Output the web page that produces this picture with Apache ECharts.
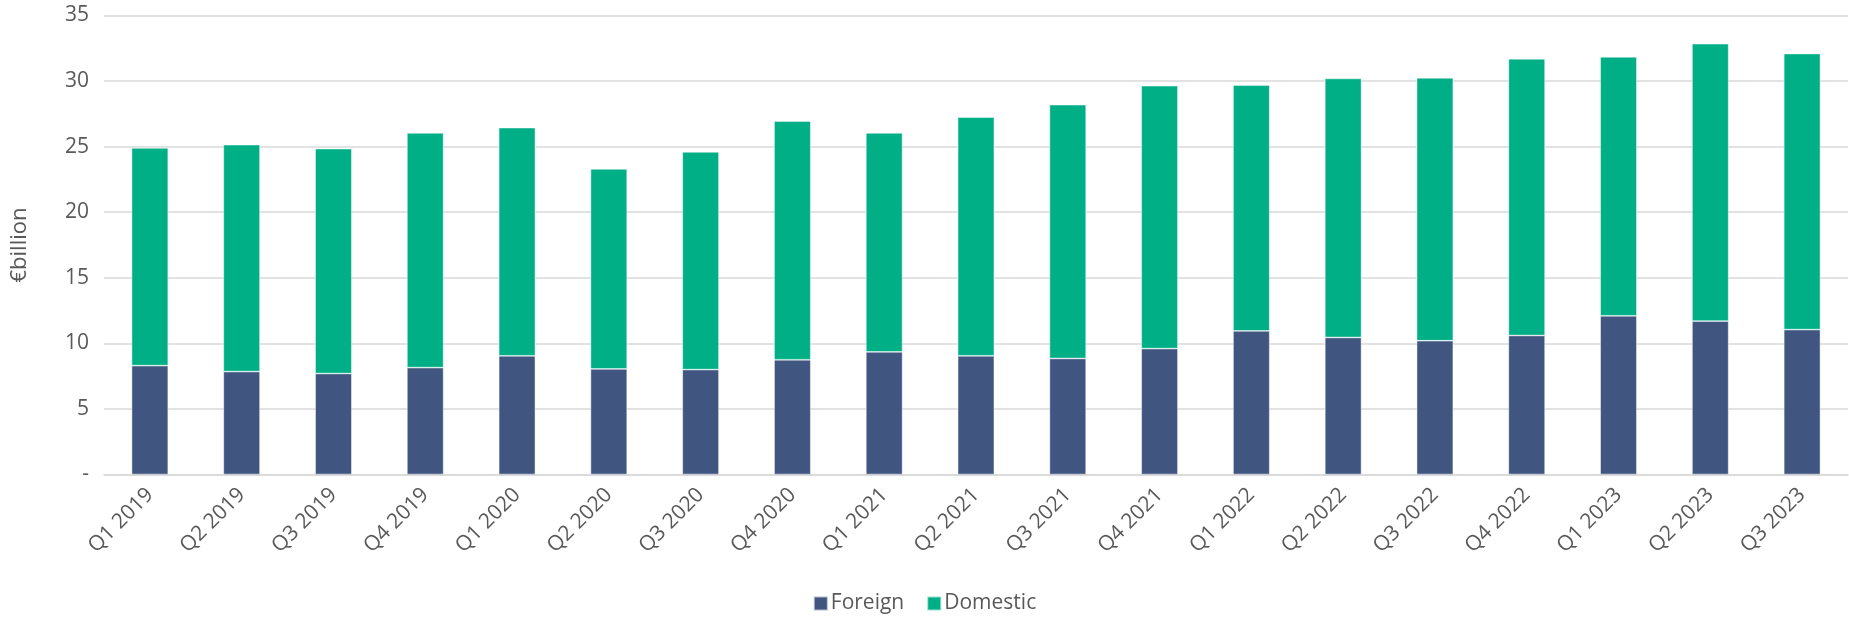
<!DOCTYPE html>
<html>
<head>
<meta charset="utf-8">
<script src="https://cdn.jsdelivr.net/npm/echarts@6/dist/echarts.min.js"></script>
<style>
html,body{margin:0;padding:0;background:#fff;}
#chart{width:1849px;height:623px;}
</style>
</head>
<body>
<div id="chart"></div>
<script>
const categories = ['Q1 2019','Q2 2019','Q3 2019','Q4 2019','Q1 2020','Q2 2020','Q3 2020','Q4 2020','Q1 2021','Q2 2021','Q3 2021','Q4 2021','Q1 2022','Q2 2022','Q3 2022','Q4 2022','Q1 2023','Q2 2023','Q3 2023'];
const foreign = [8.3, 7.85, 7.7, 8.15, 9.05, 8.05, 8.0, 8.75, 9.35, 9.05, 8.85, 9.6, 10.95, 10.45, 10.2, 10.6, 12.1, 11.7, 11.05];
const domestic = [16.6, 17.3, 17.15, 17.9, 17.4, 15.25, 16.6, 18.2, 16.7, 18.2, 19.35, 20.05, 18.75, 19.75, 20.05, 21.1, 19.75, 21.15, 21.05];
const yTicks = [0, 5, 10, 15, 20, 25, 30, 35];

const FONT = '"Open Sans", sans-serif';
const TXT = '#595959';
const chart = echarts.init(document.getElementById('chart'), null, {renderer: 'canvas'});
chart.setOption({
  animation: false,
  backgroundColor: '#ffffff',
  grid: {left: 104, right: 1, top: 15.5, bottom: 148.5, containLabel: false},
  legend: {
    bottom: 4, left: 'center',
    itemWidth: 14, itemHeight: 14, itemGap: 22,
    icon: 'rect',
    textStyle: {fontFamily: FONT, fontSize: 21, color: TXT, padding: [0,0,0,-2]},
    data: ['Foreign', 'Domestic']
  },
  xAxis: {
    type: 'category',
    data: categories,
    axisLine: {show: true, lineStyle: {color: '#D9D9D9', width: 1.5}},
    axisTick: {show: false},
    axisLabel: {rotate: 45, margin: 17, fontFamily: FONT, fontSize: 21, color: TXT, interval: 0}
  },
  yAxis: {
    type: 'value',
    min: yTicks[0], max: yTicks[yTicks.length - 1], interval: 5,
    name: '€billion',
    nameLocation: 'middle',
    nameGap: 73,
    nameRotate: 90,
    nameTextStyle: {fontFamily: FONT, fontSize: 22, color: TXT},
    axisLine: {show: false},
    axisTick: {show: false},
    splitLine: {lineStyle: {color: '#D9D9D9', width: 1.5}},
    axisLabel: {
      margin: 15, fontFamily: FONT, fontSize: 21, color: TXT,
      formatter: v => v === 0 ? '-' : String(v)
    }
  },
  series: [
    {name: 'Foreign', type: 'bar', stack: 'total', data: foreign, barWidth: '40%',
     itemStyle: {color: '#40557F', borderColor: 'rgba(255,255,255,0.6)', borderWidth: 0.75}},
    {name: 'Domestic', type: 'bar', stack: 'total', data: domestic, barWidth: '40%',
     itemStyle: {color: '#00AF86', borderColor: 'rgba(255,255,255,0.6)', borderWidth: 0.75}}
  ]
});
</script>
</body>
</html>
